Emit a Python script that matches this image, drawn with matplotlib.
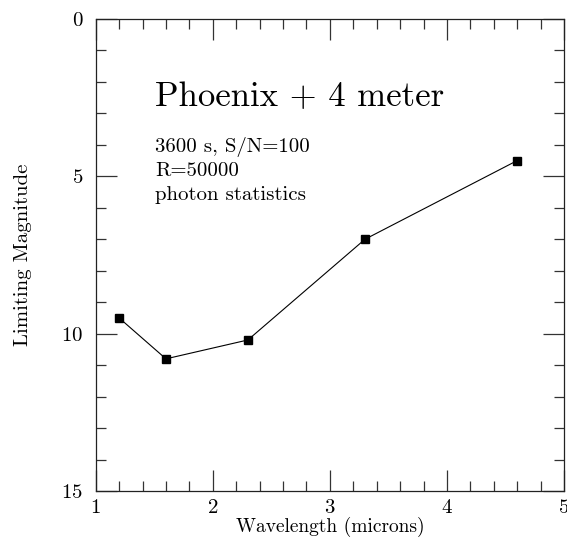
import matplotlib
matplotlib.use("Agg")
import matplotlib.pyplot as plt
from matplotlib.ticker import MultipleLocator

plt.rcParams['font.family'] = ['cmr10', 'DejaVu Serif']
plt.rcParams['axes.formatter.use_mathtext'] = True

# Limiting magnitude vs wavelength
wavelength = [1.2, 1.6, 2.3, 3.3, 4.6]
limiting_mag = [9.5, 10.8, 10.2, 7.0, 4.5]

title = "Phoenix + 4 meter"
notes = ["3600 s, S/N=100", "R=50000", "photon statistics"]

fig = plt.figure(figsize=(5.67, 5.41), dpi=100)
ax = fig.add_axes([0.1688, 0.0924, 0.8259, 0.8725])

ax.plot(wavelength, limiting_mag, color='black', lw=0.8,
        marker='s', markersize=6.3, markerfacecolor='black', markeredgecolor='black')

ax.set_xlim(1, 5)
ax.set_ylim(15, 0)
ax.xaxis.set_major_locator(MultipleLocator(1))
ax.xaxis.set_minor_locator(MultipleLocator(0.2))
ax.yaxis.set_major_locator(MultipleLocator(5))
ax.yaxis.set_minor_locator(MultipleLocator(1))

ax.tick_params(which='both', direction='in', top=True, right=True, width=0.9, color='#333333')
ax.tick_params(which='major', length=15)
ax.tick_params(which='minor', length=7.5)
ax.tick_params(axis='x', which='major', pad=6, labelsize=15)
ax.tick_params(axis='y', which='major', pad=9, labelsize=15)
for s in ax.spines.values():
    s.set_linewidth(0.9)
    s.set_color('#222222')

ax.set_xlabel("Wavelength (microns)", fontsize=14)
ax.set_ylabel("Limiting Magnitude", fontsize=15)
ax.xaxis.label.set_va('baseline')
ax.yaxis.label.set_va('baseline')
ax.xaxis.set_label_coords(0.5, -0.0868)
ax.yaxis.set_label_coords(-0.1446, 0.5)

ax.text(0.1266, 0.8157, title, transform=ax.transAxes, fontsize=25,
        va='baseline', ha='left')
for i, line in enumerate(notes):
    ax.text(0.1266, 0.7189 - i * 0.0512, line, transform=ax.transAxes,
            fontsize=15, va='baseline', ha='left')

fig.savefig("out.png", dpi=100)
